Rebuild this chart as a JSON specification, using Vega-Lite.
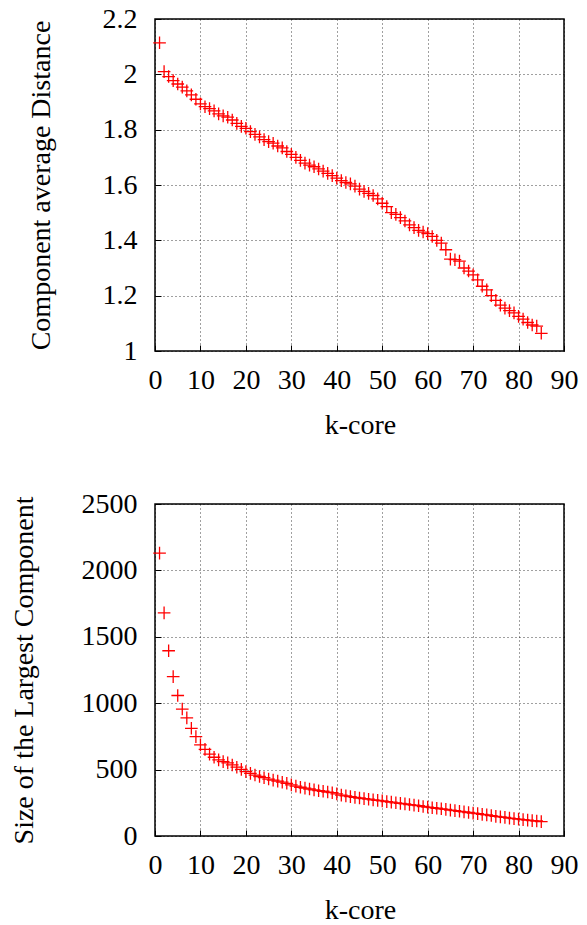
{
  "$schema": "https://vega.github.io/schema/vega-lite/v6.json",
  "padding": {"left": 9, "top": 4, "right": 5, "bottom": 5},
  "background": "white",
  "datasets": {
    "kcore": [
      {"k": 1, "dist": 2.114, "size": 2130},
      {"k": 2, "dist": 2.010, "size": 1680},
      {"k": 3, "dist": 1.992, "size": 1395},
      {"k": 4, "dist": 1.977, "size": 1200},
      {"k": 5, "dist": 1.965, "size": 1058},
      {"k": 6, "dist": 1.954, "size": 956},
      {"k": 7, "dist": 1.940, "size": 890},
      {"k": 8, "dist": 1.926, "size": 811},
      {"k": 9, "dist": 1.910, "size": 748},
      {"k": 10, "dist": 1.893, "size": 686},
      {"k": 11, "dist": 1.883, "size": 652},
      {"k": 12, "dist": 1.876, "size": 617},
      {"k": 13, "dist": 1.868, "size": 593},
      {"k": 14, "dist": 1.857, "size": 573},
      {"k": 15, "dist": 1.850, "size": 560},
      {"k": 16, "dist": 1.845, "size": 551},
      {"k": 17, "dist": 1.835, "size": 535},
      {"k": 18, "dist": 1.823, "size": 518},
      {"k": 19, "dist": 1.812, "size": 502},
      {"k": 20, "dist": 1.805, "size": 485},
      {"k": 21, "dist": 1.793, "size": 472},
      {"k": 22, "dist": 1.783, "size": 459},
      {"k": 23, "dist": 1.774, "size": 448},
      {"k": 24, "dist": 1.764, "size": 439},
      {"k": 25, "dist": 1.757, "size": 429},
      {"k": 26, "dist": 1.751, "size": 421},
      {"k": 27, "dist": 1.741, "size": 413},
      {"k": 28, "dist": 1.734, "size": 405},
      {"k": 29, "dist": 1.721, "size": 397},
      {"k": 30, "dist": 1.711, "size": 385},
      {"k": 31, "dist": 1.700, "size": 376},
      {"k": 32, "dist": 1.689, "size": 367},
      {"k": 33, "dist": 1.679, "size": 360},
      {"k": 34, "dist": 1.672, "size": 354},
      {"k": 35, "dist": 1.666, "size": 347},
      {"k": 36, "dist": 1.658, "size": 341},
      {"k": 37, "dist": 1.650, "size": 337},
      {"k": 38, "dist": 1.642, "size": 331},
      {"k": 39, "dist": 1.634, "size": 326},
      {"k": 40, "dist": 1.625, "size": 317},
      {"k": 41, "dist": 1.616, "size": 308},
      {"k": 42, "dist": 1.609, "size": 302},
      {"k": 43, "dist": 1.604, "size": 297},
      {"k": 44, "dist": 1.596, "size": 291},
      {"k": 45, "dist": 1.585, "size": 286},
      {"k": 46, "dist": 1.577, "size": 281},
      {"k": 47, "dist": 1.570, "size": 277},
      {"k": 48, "dist": 1.562, "size": 272},
      {"k": 49, "dist": 1.550, "size": 268},
      {"k": 50, "dist": 1.534, "size": 264},
      {"k": 51, "dist": 1.522, "size": 259},
      {"k": 52, "dist": 1.500, "size": 255},
      {"k": 53, "dist": 1.494, "size": 250},
      {"k": 54, "dist": 1.482, "size": 246},
      {"k": 55, "dist": 1.470, "size": 242},
      {"k": 56, "dist": 1.456, "size": 237},
      {"k": 57, "dist": 1.446, "size": 232},
      {"k": 58, "dist": 1.436, "size": 228},
      {"k": 59, "dist": 1.430, "size": 222},
      {"k": 60, "dist": 1.424, "size": 217},
      {"k": 61, "dist": 1.414, "size": 213},
      {"k": 62, "dist": 1.400, "size": 209},
      {"k": 63, "dist": 1.390, "size": 205},
      {"k": 64, "dist": 1.366, "size": 200},
      {"k": 65, "dist": 1.332, "size": 195},
      {"k": 66, "dist": 1.330, "size": 191},
      {"k": 67, "dist": 1.325, "size": 186},
      {"k": 68, "dist": 1.300, "size": 182},
      {"k": 69, "dist": 1.289, "size": 177},
      {"k": 70, "dist": 1.275, "size": 172},
      {"k": 71, "dist": 1.257, "size": 168},
      {"k": 72, "dist": 1.234, "size": 163},
      {"k": 73, "dist": 1.221, "size": 159},
      {"k": 74, "dist": 1.200, "size": 154},
      {"k": 75, "dist": 1.183, "size": 148},
      {"k": 76, "dist": 1.166, "size": 144},
      {"k": 77, "dist": 1.155, "size": 140},
      {"k": 78, "dist": 1.146, "size": 135},
      {"k": 79, "dist": 1.138, "size": 131},
      {"k": 80, "dist": 1.125, "size": 127},
      {"k": 81, "dist": 1.115, "size": 123},
      {"k": 82, "dist": 1.103, "size": 119},
      {"k": 83, "dist": 1.094, "size": 116},
      {"k": 84, "dist": 1.090, "size": 113},
      {"k": 85, "dist": 1.064, "size": 108}
    ]
  },
  "config": {
    "font": "Liberation Serif, Times New Roman, serif",
    "view": {"stroke": "#000000", "strokeWidth": 1.5},
    "axis": {
      "labelFont": "Liberation Serif, Times New Roman, serif",
      "titleFont": "Liberation Serif, Times New Roman, serif",
      "labelFontSize": 28,
      "titleFontSize": 28,
      "labelColor": "#000000",
      "titleColor": "#000000",
      "titleFontWeight": "normal",
      "domain": false,
      "ticks": true,
      "tickSize": -6,
      "tickColor": "#000000",
      "tickWidth": 1,
      "grid": true,
      "gridColor": "#000000",
      "gridDash": [1, 3],
      "gridOpacity": 0.75,
      "gridWidth": 1
    },
    "axisX": {"labelPadding": 21, "labelFlush": false, "labelAngle": 0},
    "axisY": {"labelPadding": 24, "labelFlush": false}
  },
  "vconcat": [
    {
      "width": 409,
      "height": 332,
      "data": {"name": "kcore"},
      "mark": {"type": "point", "shape": "M-1,0L1,0M0,-1L0,1", "filled": false, "stroke": "#ff0000", "strokeWidth": 1.3, "size": 160, "opacity": 1},
      "encoding": {
        "x": {"field": "k", "type": "quantitative", "scale": {"domain": [0, 90], "nice": false},
          "axis": {"values": [0, 10, 20, 30, 40, 50, 60, 70, 80, 90], "format": "d", "title": "k-core", "titleBaseline": "alphabetic", "titleY": 82, "titleX": 205}},
        "y": {"field": "dist", "type": "quantitative", "scale": {"domain": [1, 2.2], "nice": false, "zero": false},
          "axis": {"values": [1, 1.2, 1.4, 1.6, 1.8, 2, 2.2], "format": "~g", "title": "Component average Distance", "titleAngle": -90, "titleBaseline": "alphabetic", "titleX": -106, "titleY": 166, "titleAlign": "center"}}
      }
    },
    {
      "width": 409,
      "height": 332,
      "data": {"name": "kcore"},
      "mark": {"type": "point", "shape": "M-1,0L1,0M0,-1L0,1", "filled": false, "stroke": "#ff0000", "strokeWidth": 1.3, "size": 160, "opacity": 1},
      "encoding": {
        "x": {"field": "k", "type": "quantitative", "scale": {"domain": [0, 90], "nice": false},
          "axis": {"values": [0, 10, 20, 30, 40, 50, 60, 70, 80, 90], "format": "d", "title": "k-core", "titleBaseline": "alphabetic", "titleY": 82, "titleX": 205}},
        "y": {"field": "size", "type": "quantitative", "scale": {"domain": [0, 2500], "nice": false},
          "axis": {"values": [0, 500, 1000, 1500, 2000, 2500], "format": "d", "title": "Size of the Largest Component", "titleAngle": -90, "titleBaseline": "alphabetic", "titleX": -123, "titleY": 166, "titleAlign": "center"}}
      }
    }
  ],
  "spacing": 153,
  "bounds": "flush"
}
